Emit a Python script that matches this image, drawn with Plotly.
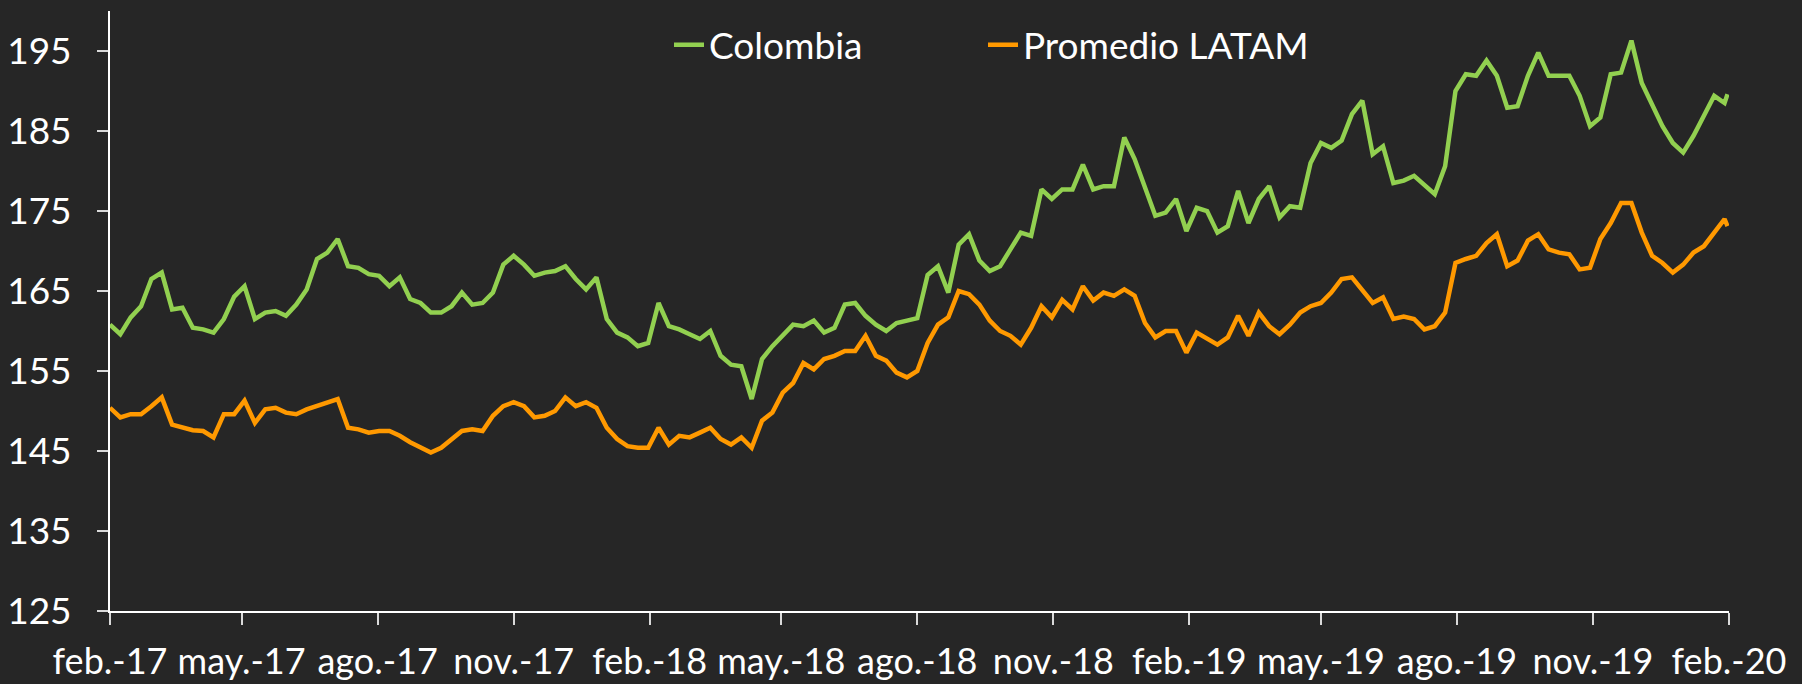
import pandas as pd
import plotly.graph_objects as go

# Weekly readings (Wednesdays from 1 Feb 2017) plus final point
dates = list(pd.date_range("2017-02-01", periods=157, freq="7D").strftime("%Y-%m-%d")) + ["2020-01-31"]

colombia = [
    160.8, 159.6, 161.7, 163.1, 166.5, 167.3, 162.7, 162.9, 160.4, 160.2,
    159.8, 161.5, 164.3, 165.6, 161.5, 162.3, 162.5, 161.9, 163.3, 165.2,
    169.0, 169.8, 171.5, 168.1, 167.9, 167.1, 166.9, 165.6, 166.7, 164.0,
    163.5, 162.3, 162.3, 163.1, 164.8, 163.3, 163.5, 164.8, 168.3, 169.4,
    168.3, 166.9, 167.3, 167.5, 168.1, 166.5, 165.2, 166.7, 161.5, 159.8,
    159.2, 158.1, 158.5, 163.5, 160.6, 160.2, 159.6, 159.0, 160.0, 156.9,
    155.8, 155.6, 151.5, 156.5, 158.1, 159.4, 160.8, 160.6, 161.3, 159.8,
    160.4, 163.3, 163.5, 161.9, 160.8, 160.0, 161.0, 161.3, 161.6, 167.0,
    168.1, 164.8, 170.8, 172.1, 168.8, 167.5, 168.1, 170.2, 172.3, 171.9,
    177.7, 176.5, 177.7, 177.7, 180.8, 177.7, 178.1, 178.1, 184.2, 181.5,
    178.1, 174.4, 174.8, 176.5, 172.5, 175.4, 175.0, 172.3, 173.1, 177.5,
    173.5, 176.5, 178.1, 174.2, 175.6, 175.4, 181.0, 183.5, 182.9, 183.8,
    187.1, 188.8, 182.1, 183.1, 178.5, 178.8, 179.4, 178.3, 177.1, 180.6,
    190.0, 192.1, 191.9, 193.8, 191.9, 187.9, 188.1, 191.9, 194.8, 191.9,
    191.9, 191.9, 189.4, 185.6, 186.7, 192.1, 192.3, 196.3, 191.0, 188.2,
    185.6, 183.5, 182.3, 184.4, 186.9, 189.4, 188.5, 189.6,
]

latam = [
    150.4, 149.2, 149.6, 149.6, 150.6, 151.7, 148.3, 147.9, 147.6, 147.5,
    146.7, 149.6, 149.6, 151.3, 148.5, 150.2, 150.4, 149.8, 149.6, 150.2,
    150.6, 151.1, 151.5, 147.9, 147.7, 147.3, 147.5, 147.5, 146.9, 146.1,
    145.4, 144.8, 145.4, 146.5, 147.5, 147.7, 147.5, 149.4, 150.6, 151.1,
    150.6, 149.2, 149.4, 150.0, 151.7, 150.6, 151.1, 150.4, 147.9, 146.5,
    145.6, 145.4, 145.4, 147.9, 145.8, 146.9, 146.7, 147.3, 147.9, 146.5,
    145.8, 146.7, 145.4, 148.8, 149.8, 152.3, 153.5, 156.0, 155.2, 156.5,
    156.9, 157.5, 157.5, 159.4, 156.9, 156.3, 154.8, 154.2, 155.0, 158.5,
    160.8, 161.7, 165.0, 164.6, 163.3, 161.3, 160.0, 159.4, 158.3, 160.4,
    163.1, 161.7, 163.9, 162.7, 165.6, 163.8, 164.8, 164.4, 165.2, 164.4,
    161.0, 159.2, 160.0, 160.0, 157.3, 159.8, 159.0, 158.3, 159.2, 161.9,
    159.4, 162.3, 160.6, 159.6, 160.8, 162.3, 163.1, 163.5, 164.8, 166.5,
    166.7, 165.2, 163.5, 164.2, 161.5, 161.8, 161.5, 160.2, 160.6, 162.3,
    168.5, 169.0, 169.4, 171.0, 172.1, 168.1, 168.8, 171.3, 172.1, 170.2,
    169.8, 169.6, 167.7, 167.9, 171.5, 173.5, 176.0, 176.0, 172.3, 169.4,
    168.5, 167.3, 168.3, 169.8, 170.6, 172.3, 174.0, 173.1,
]

tick_dates = ["2017-02-01", "2017-05-01", "2017-08-01", "2017-11-01",
              "2018-02-01", "2018-05-01", "2018-08-01", "2018-11-01",
              "2019-02-01", "2019-05-01", "2019-08-01", "2019-11-01",
              "2020-02-01"]
tick_labels = ["feb.-17", "may.-17", "ago.-17", "nov.-17",
               "feb.-18", "may.-18", "ago.-18", "nov.-18",
               "feb.-19", "may.-19", "ago.-19", "nov.-19", "feb.-20"]
y_ticks = [125, 135, 145, 155, 165, 175, 185, 195]

BG = "#262626"
FONT = "Lato"
FS = 37

fig = go.Figure()
fig.add_trace(go.Scatter(x=dates, y=colombia, mode="lines", name="Colombia",
                         line=dict(color="#92D050", width=4.5), legend="legend"))
fig.add_trace(go.Scatter(x=dates, y=latam, mode="lines", name="Promedio LATAM",
                         line=dict(color="#FF9900", width=4.5), legend="legend2"))

legend_common = dict(orientation="h", xanchor="left", y=0.943, yanchor="middle",
                     bgcolor="rgba(0,0,0,0)",
                     font=dict(family=FONT, size=FS, color="#FFFFFF"))

fig.update_layout(
    width=1802, height=684,
    paper_bgcolor=BG, plot_bgcolor=BG,
    margin=dict(l=110, r=73, t=11, b=73, autoexpand=False),
    font=dict(family=FONT, color="#FFFFFF", size=FS),
    showlegend=True,
    legend=dict(x=(669 - 110) / 1619, **legend_common),
    legend2=dict(x=(983 - 110) / 1619, **legend_common),
)
fig.update_xaxes(
    type="date", range=["2017-02-01", "2020-02-01"],
    tickmode="array", tickvals=tick_dates, ticktext=tick_labels,
    showgrid=False, zeroline=False, automargin=False,
    showline=True, linecolor="#FFFFFF", linewidth=2,
    ticks="outside", ticklen=12, tickwidth=1.5, tickcolor="#D9D9D9",
    ticklabelstandoff=6,
    tickfont=dict(family=FONT, size=36, color="#FFFFFF"),
)
fig.update_yaxes(
    range=[125, 200], tickmode="array", tickvals=y_ticks,
    showgrid=False, zeroline=False, automargin=False,
    showline=True, linecolor="#FFFFFF", linewidth=2,
    ticks="outside", ticklen=11, tickwidth=1.5, tickcolor="#D9D9D9",
    ticklabelstandoff=18,
    tickfont=dict(family=FONT, size=FS, color="#FFFFFF"),
)

fig.write_html("out.html",
               config={"displayModeBar": False},
               post_script="document.body.style.margin='0';document.body.style.overflow='hidden';")
